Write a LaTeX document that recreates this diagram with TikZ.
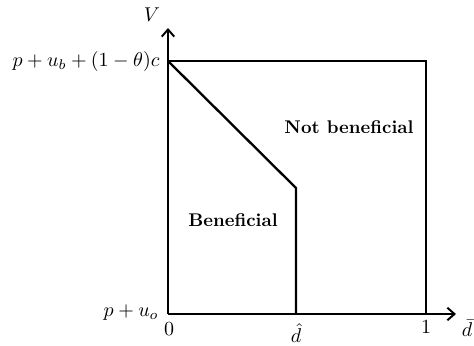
\documentclass[tikz,border=0pt]{standalone}
\usetikzlibrary{arrows.meta}
\begin{document}
\begin{tikzpicture}[x=0.56pt,y=-0.56pt,
  ln/.style={line width=1.3pt},
  ax/.style={line width=1.3pt,-{Straight Barb[length=4pt,width=7pt,line width=1.1pt]}},
  lbl/.style={inner sep=0pt,scale=1.12},
  txt/.style={inner sep=0pt,scale=1.03}]
\useasboundingbox (0,0) rectangle (474,345);
\coordinate (O) at (168,314);
\coordinate (TL) at (168,61);
\coordinate (TR) at (426,61);
\coordinate (BR) at (426,314);
\coordinate (K) at (296,188);
\coordinate (DH) at (296,314);
\coordinate (YT) at (168,28);
\coordinate (XT) at (456,314);
\draw[ax] (O) -- (YT);
\draw[ax] (O) -- (XT);
\draw[ln] (TL) -- (TR) -- (BR);
\draw[ln] (TL) -- (K) -- (DH);
\node[lbl] (V) at (152,15) {$V$};
\node[lbl] (db) at (467,328) {$\bar{d}$};
\node[lbl,anchor=east] (top) at (160,61) {$p+u_b+(1-\theta)c$};
\node[lbl,anchor=east] (bot) at (159,313) {$p+u_o$};
\node[lbl] (z) at (169,329) {$0$};
\node[lbl] (dh) at (296,333) {$\hat{d}$};
\node[lbl] (one) at (426,327) {$1$};
\node[txt] (nb) at (349,127) {\textbf{Not beneficial}};
\node[txt] (b) at (233,220) {\textbf{Beneficial}};
\end{tikzpicture}
\end{document}
